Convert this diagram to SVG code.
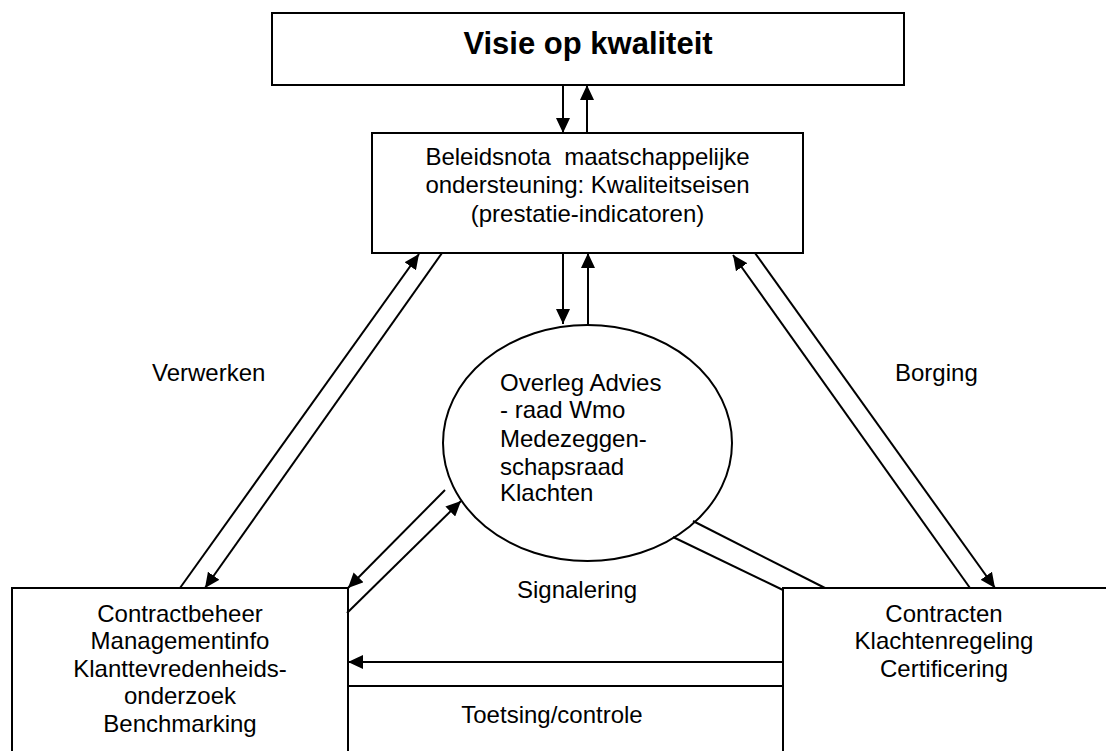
<svg xmlns="http://www.w3.org/2000/svg" width="1106" height="751" viewBox="0 0 1106 751">
<style>
.box{fill:#fff;stroke:#000;stroke-width:2}
.t{font-family:"Liberation Sans",Arial,sans-serif;font-size:24px;fill:#000}
.c{text-anchor:middle}
.ln{stroke:#000;stroke-width:2;fill:none}
.ar{marker-end:url(#ah)}
</style>
<defs>
<marker id="ah" viewBox="0 0 15 14" refX="15" refY="7" markerWidth="15" markerHeight="14" markerUnits="userSpaceOnUse" orient="auto">
<path d="M0,0 L15,7 L0,14 z" fill="#000"/>
</marker>
</defs>
<rect width="1106" height="751" fill="#fff"/>
<g id="visie">
<rect class="box" x="272" y="13" width="632" height="72"/>
<text class="t c" x="588" y="54" style="font-weight:bold;font-size:31px">Visie op kwaliteit</text>
</g>
<g id="beleidsnota">
<rect class="box" x="372" y="133" width="431" height="120"/>
<text class="t c" x="587.5" y="165" xml:space="preserve">Beleidsnota  maatschappelijke</text>
<text class="t c" x="587.5" y="193">ondersteuning: Kwaliteitseisen</text>
<text class="t c" x="587.5" y="222">(prestatie-indicatoren)</text>
</g>
<g id="overleg">
<ellipse class="box" cx="587.5" cy="443" rx="144.5" ry="118"/>
<text class="t" x="500" y="391">Overleg Advies</text>
<text class="t" x="500" y="418">- raad Wmo</text>
<text class="t" x="500" y="447">Medezeggen-</text>
<text class="t" x="500" y="475">schapsraad</text>
<text class="t" x="500" y="501">Klachten</text>
</g>
<g id="contractbeheer">
<rect class="box" x="12" y="588" width="336" height="180"/>
<text class="t c" x="180" y="622">Contractbeheer</text>
<text class="t c" x="180" y="649">Managementinfo</text>
<text class="t c" x="180" y="677">Klanttevredenheids-</text>
<text class="t c" x="180" y="704">onderzoek</text>
<text class="t c" x="180" y="732">Benchmarking</text>
</g>
<g id="contracten">
<rect class="box" x="783" y="588" width="340" height="180"/>
<text class="t c" x="944" y="622">Contracten</text>
<text class="t c" x="944" y="649">Klachtenregeling</text>
<text class="t c" x="944" y="677">Certificering</text>
</g>
<g id="connectors">
<line class="ln ar" x1="563" y1="85" x2="563" y2="133"/>
<line class="ln ar" x1="587" y1="133" x2="587" y2="85"/>
<line class="ln ar" x1="563" y1="253" x2="563" y2="324"/>
<line class="ln ar" x1="588" y1="325" x2="588" y2="253"/>
<line class="ln ar" x1="180" y1="588" x2="419" y2="254"/>
<line class="ln ar" x1="442" y1="253" x2="205" y2="588"/>
<line class="ln ar" x1="970" y1="588" x2="733" y2="255"/>
<line class="ln ar" x1="755" y1="253" x2="995" y2="588"/>
<line class="ln ar" x1="445" y1="490" x2="348" y2="588"/>
<line class="ln ar" x1="347" y1="613" x2="461" y2="501"/>
<line class="ln" x1="693" y1="521" x2="825" y2="588"/>
<line class="ln" x1="673" y1="537" x2="783" y2="590"/>
<line class="ln ar" x1="783" y1="662" x2="348" y2="662"/>
<line class="ln" x1="348" y1="686" x2="783" y2="686"/>
</g>
<g id="labels">
<text class="t" x="152" y="381">Verwerken</text>
<text class="t" x="895" y="381">Borging</text>
<text class="t c" x="577" y="598">Signalering</text>
<text class="t c" x="552" y="723">Toetsing/controle</text>
</g>
</svg>
